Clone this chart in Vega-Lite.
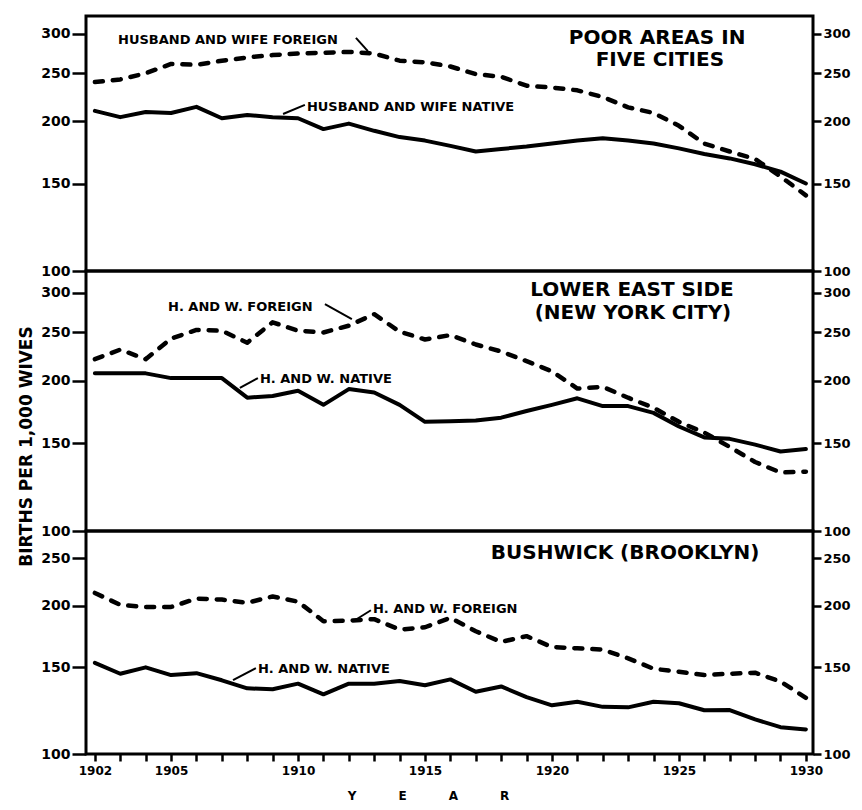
{
  "$schema": "https://vega.github.io/schema/vega-lite/v6.json",
  "background": "white",
  "padding": {"left": 15, "top": 14, "right": 6, "bottom": 6},
  "spacing": 0,
  "bounds": "flush",
  "config": {
    "view": {"stroke": "black", "strokeWidth": 3},
    "axis": {"labelFont": "DejaVu Sans", "labelFontWeight": "bold", "labelColor": "black", "tickColor": "black", "tickWidth": 2.5, "domain": false, "grid": false, "labelOverlap": false, "labelFlush": false, "titleFont": "DejaVu Sans", "titleFontWeight": "bold", "titleColor": "black"}
  },
  "datasets": {
    "series": [
      {"panel":"five","type":"native","year":1902,"value":210},{"panel":"five","type":"native","year":1903,"value":204},{"panel":"five","type":"native","year":1904,"value":209},{"panel":"five","type":"native","year":1905,"value":208},{"panel":"five","type":"native","year":1906,"value":214},{"panel":"five","type":"native","year":1907,"value":203},{"panel":"five","type":"native","year":1908,"value":206},{"panel":"five","type":"native","year":1909,"value":204},{"panel":"five","type":"native","year":1910,"value":203},{"panel":"five","type":"native","year":1911,"value":193},{"panel":"five","type":"native","year":1912,"value":198},{"panel":"five","type":"native","year":1913,"value":191.5},{"panel":"five","type":"native","year":1914,"value":186},{"panel":"five","type":"native","year":1915,"value":183},{"panel":"five","type":"native","year":1916,"value":178.6},{"panel":"five","type":"native","year":1917,"value":174},{"panel":"five","type":"native","year":1918,"value":176},{"panel":"five","type":"native","year":1919,"value":178},{"panel":"five","type":"native","year":1920,"value":180.5},{"panel":"five","type":"native","year":1921,"value":183},{"panel":"five","type":"native","year":1922,"value":185},{"panel":"five","type":"native","year":1923,"value":183},{"panel":"five","type":"native","year":1924,"value":180.5},{"panel":"five","type":"native","year":1925,"value":176.5},{"panel":"five","type":"native","year":1926,"value":172},{"panel":"five","type":"native","year":1927,"value":168.5},{"panel":"five","type":"native","year":1928,"value":164},{"panel":"five","type":"native","year":1929,"value":158.5},{"panel":"five","type":"native","year":1930,"value":150},
      {"panel":"five","type":"foreign","year":1902,"value":240},{"panel":"five","type":"foreign","year":1903,"value":243},{"panel":"five","type":"foreign","year":1904,"value":250},{"panel":"five","type":"foreign","year":1905,"value":261},{"panel":"five","type":"foreign","year":1906,"value":260},{"panel":"five","type":"foreign","year":1907,"value":265},{"panel":"five","type":"foreign","year":1908,"value":269},{"panel":"five","type":"foreign","year":1909,"value":272},{"panel":"five","type":"foreign","year":1910,"value":274},{"panel":"five","type":"foreign","year":1911,"value":275},{"panel":"five","type":"foreign","year":1912,"value":276},{"panel":"five","type":"foreign","year":1913,"value":274},{"panel":"five","type":"foreign","year":1914,"value":265},{"panel":"five","type":"foreign","year":1915,"value":263},{"panel":"five","type":"foreign","year":1916,"value":258},{"panel":"five","type":"foreign","year":1917,"value":249},{"panel":"five","type":"foreign","year":1918,"value":246},{"panel":"five","type":"foreign","year":1919,"value":236},{"panel":"five","type":"foreign","year":1920,"value":234},{"panel":"five","type":"foreign","year":1921,"value":231},{"panel":"five","type":"foreign","year":1922,"value":224},{"panel":"five","type":"foreign","year":1923,"value":213.5},{"panel":"five","type":"foreign","year":1924,"value":208},{"panel":"five","type":"foreign","year":1925,"value":196},{"panel":"five","type":"foreign","year":1926,"value":180.5},{"panel":"five","type":"foreign","year":1927,"value":174},{"panel":"five","type":"foreign","year":1928,"value":168},{"panel":"five","type":"foreign","year":1929,"value":155},{"panel":"five","type":"foreign","year":1930,"value":142},
      {"panel":"les","type":"native","year":1902,"value":207},{"panel":"les","type":"native","year":1903,"value":207},{"panel":"les","type":"native","year":1904,"value":207},{"panel":"les","type":"native","year":1905,"value":202.5},{"panel":"les","type":"native","year":1906,"value":202.5},{"panel":"les","type":"native","year":1907,"value":202.5},{"panel":"les","type":"native","year":1908,"value":185},{"panel":"les","type":"native","year":1909,"value":186.5},{"panel":"les","type":"native","year":1910,"value":191},{"panel":"les","type":"native","year":1911,"value":179},{"panel":"les","type":"native","year":1912,"value":192.5},{"panel":"les","type":"native","year":1913,"value":189.5},{"panel":"les","type":"native","year":1914,"value":179},{"panel":"les","type":"native","year":1915,"value":165.5},{"panel":"les","type":"native","year":1916,"value":166},{"panel":"les","type":"native","year":1917,"value":166.5},{"panel":"les","type":"native","year":1918,"value":168.7},{"panel":"les","type":"native","year":1919,"value":174},{"panel":"les","type":"native","year":1920,"value":179},{"panel":"les","type":"native","year":1921,"value":184.5},{"panel":"les","type":"native","year":1922,"value":178},{"panel":"les","type":"native","year":1923,"value":178},{"panel":"les","type":"native","year":1924,"value":172.5},{"panel":"les","type":"native","year":1925,"value":162},{"panel":"les","type":"native","year":1926,"value":154},{"panel":"les","type":"native","year":1927,"value":153},{"panel":"les","type":"native","year":1928,"value":149},{"panel":"les","type":"native","year":1929,"value":144.3},{"panel":"les","type":"native","year":1930,"value":146},
      {"panel":"les","type":"foreign","year":1902,"value":221},{"panel":"les","type":"foreign","year":1903,"value":231},{"panel":"les","type":"foreign","year":1904,"value":221},{"panel":"les","type":"foreign","year":1905,"value":243},{"panel":"les","type":"foreign","year":1906,"value":253},{"panel":"les","type":"foreign","year":1907,"value":252},{"panel":"les","type":"foreign","year":1908,"value":238.5},{"panel":"les","type":"foreign","year":1909,"value":262},{"panel":"les","type":"foreign","year":1910,"value":252},{"panel":"les","type":"foreign","year":1911,"value":250},{"panel":"les","type":"foreign","year":1912,"value":258},{"panel":"les","type":"foreign","year":1913,"value":272},{"panel":"les","type":"foreign","year":1914,"value":251},{"panel":"les","type":"foreign","year":1915,"value":242},{"panel":"les","type":"foreign","year":1916,"value":247},{"panel":"les","type":"foreign","year":1917,"value":236.5},{"panel":"les","type":"foreign","year":1918,"value":229},{"panel":"les","type":"foreign","year":1919,"value":219},{"panel":"les","type":"foreign","year":1920,"value":209},{"panel":"les","type":"foreign","year":1921,"value":193},{"panel":"les","type":"foreign","year":1922,"value":194.5},{"panel":"les","type":"foreign","year":1923,"value":185},{"panel":"les","type":"foreign","year":1924,"value":176.6},{"panel":"les","type":"foreign","year":1925,"value":165.5},{"panel":"les","type":"foreign","year":1926,"value":157.5},{"panel":"les","type":"foreign","year":1927,"value":147.4},{"panel":"les","type":"foreign","year":1928,"value":137.5},{"panel":"les","type":"foreign","year":1929,"value":131},{"panel":"les","type":"foreign","year":1930,"value":131.5},
      {"panel":"bush","type":"native","year":1902,"value":153.2},{"panel":"bush","type":"native","year":1903,"value":145.6},{"panel":"bush","type":"native","year":1904,"value":150},{"panel":"bush","type":"native","year":1905,"value":144.7},{"panel":"bush","type":"native","year":1906,"value":146},{"panel":"bush","type":"native","year":1907,"value":141.2},{"panel":"bush","type":"native","year":1908,"value":136},{"panel":"bush","type":"native","year":1909,"value":135.4},{"panel":"bush","type":"native","year":1910,"value":139},{"panel":"bush","type":"native","year":1911,"value":132.2},{"panel":"bush","type":"native","year":1912,"value":139},{"panel":"bush","type":"native","year":1913,"value":139},{"panel":"bush","type":"native","year":1914,"value":140.7},{"panel":"bush","type":"native","year":1915,"value":138},{"panel":"bush","type":"native","year":1916,"value":141.8},{"panel":"bush","type":"native","year":1917,"value":133.8},{"panel":"bush","type":"native","year":1918,"value":137.2},{"panel":"bush","type":"native","year":1919,"value":130.5},{"panel":"bush","type":"native","year":1920,"value":125.6},{"panel":"bush","type":"native","year":1921,"value":127.7},{"panel":"bush","type":"native","year":1922,"value":124.7},{"panel":"bush","type":"native","year":1923,"value":124.4},{"panel":"bush","type":"native","year":1924,"value":127.7},{"panel":"bush","type":"native","year":1925,"value":126.8},{"panel":"bush","type":"native","year":1926,"value":122.7},{"panel":"bush","type":"native","year":1927,"value":122.8},{"panel":"bush","type":"native","year":1928,"value":117.6},{"panel":"bush","type":"native","year":1929,"value":113.4},{"panel":"bush","type":"native","year":1930,"value":112.2},
      {"panel":"bush","type":"foreign","year":1902,"value":212.5},{"panel":"bush","type":"foreign","year":1903,"value":201},{"panel":"bush","type":"foreign","year":1904,"value":199},{"panel":"bush","type":"foreign","year":1905,"value":199},{"panel":"bush","type":"foreign","year":1906,"value":207},{"panel":"bush","type":"foreign","year":1907,"value":206},{"panel":"bush","type":"foreign","year":1908,"value":203},{"panel":"bush","type":"foreign","year":1909,"value":209},{"panel":"bush","type":"foreign","year":1910,"value":204},{"panel":"bush","type":"foreign","year":1911,"value":186.2},{"panel":"bush","type":"foreign","year":1912,"value":186.7},{"panel":"bush","type":"foreign","year":1913,"value":188},{"panel":"bush","type":"foreign","year":1914,"value":179},{"panel":"bush","type":"foreign","year":1915,"value":181},{"panel":"bush","type":"foreign","year":1916,"value":189.2},{"panel":"bush","type":"foreign","year":1917,"value":177.6},{"panel":"bush","type":"foreign","year":1918,"value":169},{"panel":"bush","type":"foreign","year":1919,"value":173.6},{"panel":"bush","type":"foreign","year":1920,"value":165},{"panel":"bush","type":"foreign","year":1921,"value":164},{"panel":"bush","type":"foreign","year":1922,"value":163},{"panel":"bush","type":"foreign","year":1923,"value":156.5},{"panel":"bush","type":"foreign","year":1924,"value":149},{"panel":"bush","type":"foreign","year":1925,"value":147},{"panel":"bush","type":"foreign","year":1926,"value":144.7},{"panel":"bush","type":"foreign","year":1927,"value":145.6},{"panel":"bush","type":"foreign","year":1928,"value":146.3},{"panel":"bush","type":"foreign","year":1929,"value":140.4},{"panel":"bush","type":"foreign","year":1930,"value":130.1}
    ],
    "notes": [
      {"panel":"five","kind":"title","year":1924.14,"value":286.4,"text":"POOR AREAS IN"},
      {"panel":"five","kind":"title","year":1924.25,"value":258.7,"text":"FIVE CITIES"},
      {"panel":"five","kind":"label","year":1902.91,"value":286.4,"text":"HUSBAND AND WIFE FOREIGN"},
      {"panel":"five","kind":"label","year":1910.35,"value":209.9,"text":"HUSBAND AND WIFE NATIVE"},
      {"panel":"les","kind":"title","year":1923.15,"value":296,"text":"LOWER EAST SIDE"},
      {"panel":"les","kind":"title","year":1923.19,"value":266,"text":"(NEW YORK CITY)"},
      {"panel":"les","kind":"label","year":1904.88,"value":276,"text":"H. AND W. FOREIGN"},
      {"panel":"les","kind":"label","year":1908.5,"value":198,"text":"H. AND W. NATIVE"},
      {"panel":"bush","kind":"title","year":1922.88,"value":249,"text":"BUSHWICK (BROOKLYN)"},
      {"panel":"bush","kind":"label","year":1912.95,"value":193.3,"text":"H. AND W. FOREIGN"},
      {"panel":"bush","kind":"label","year":1908.42,"value":146,"text":"H. AND W. NATIVE"}
    ],
    "arrows": [
      {"panel":"five","year":1912.28,"value":294.5,"year2":1912.75,"value2":277},
      {"panel":"five","year":1910.27,"value":216,"year2":1909.41,"value2":207},
      {"panel":"les","year":1911.06,"value":285,"year2":1912.12,"value2":266},
      {"panel":"les","year":1908.42,"value":202.6,"year2":1907.71,"value2":193.5},
      {"panel":"bush","year":1912.87,"value":196,"year2":1912.24,"value2":187},
      {"panel":"bush","year":1908.34,"value":149.5,"year2":1907.44,"value2":141.3}
    ]
  },
  "vconcat": [
    {
      "width": 727, "height": 255,
      "layer": [
        {"data": {"name": "series"}, "transform": [{"filter": "datum.panel == 'five' && datum.type == 'native'"}],
         "mark": {"type": "line", "color": "black", "strokeWidth": 4, "strokeJoin": "round", "strokeCap": "round"},
         "encoding": {
           "x": {"field": "year", "type": "quantitative", "scale": {"domain": [1901.65, 1930.28], "nice": false, "zero": false}, "axis": null},
           "y": {"field": "value", "type": "quantitative", "scale": {"type": "log", "domain": [100, 326], "nice": false}, "axis": {"orient": "left", "values": [100, 150, 200, 250, 300], "format": "d", "title": null, "tickSize": 14, "labelPadding": 2, "labelFontSize": 14}}
         }},
        {"data": {"name": "series"}, "transform": [{"filter": "datum.panel == 'five' && datum.type == 'foreign'"}],
         "mark": {"type": "line", "color": "black", "strokeWidth": 4.5, "strokeDash": [8, 10], "strokeJoin": "round", "strokeCap": "round"},
         "encoding": {
           "x": {"field": "year", "type": "quantitative", "scale": {"domain": [1901.65, 1930.28], "nice": false, "zero": false}, "axis": null},
           "y": {"field": "value", "type": "quantitative", "scale": {"type": "log", "domain": [100, 326], "nice": false}, "axis": {"orient": "right", "values": [100, 150, 200, 250, 300], "format": "d", "title": null, "tickSize": 8, "labelPadding": 2, "labelFontSize": 13}}
         }},
        {"data": {"name": "notes"}, "transform": [{"filter": "datum.panel == 'five' && datum.kind == 'title'"}],
         "mark": {"type": "text", "font": "DejaVu Sans", "fontWeight": "bold", "fontSize": 20, "align": "center", "baseline": "alphabetic", "color": "black"},
         "encoding": {
           "x": {"field": "year", "type": "quantitative", "scale": {"domain": [1901.65, 1930.28], "nice": false, "zero": false}, "axis": null},
           "y": {"field": "value", "type": "quantitative", "scale": {"type": "log", "domain": [100, 326], "nice": false}, "axis": null},
           "text": {"field": "text"}
         }},
        {"data": {"name": "notes"}, "transform": [{"filter": "datum.panel == 'five' && datum.kind == 'label'"}],
         "mark": {"type": "text", "font": "DejaVu Sans", "fontWeight": "bold", "fontSize": 13, "align": "left", "baseline": "alphabetic", "color": "black"},
         "encoding": {
           "x": {"field": "year", "type": "quantitative", "scale": {"domain": [1901.65, 1930.28], "nice": false, "zero": false}, "axis": null},
           "y": {"field": "value", "type": "quantitative", "scale": {"type": "log", "domain": [100, 326], "nice": false}, "axis": null},
           "text": {"field": "text"}
         }},
        {"data": {"name": "arrows"}, "transform": [{"filter": "datum.panel == 'five'"}],
         "mark": {"type": "rule", "color": "black", "strokeWidth": 2},
         "encoding": {
           "x": {"field": "year", "type": "quantitative", "scale": {"domain": [1901.65, 1930.28], "nice": false, "zero": false}, "axis": null},
           "x2": {"field": "year2"},
           "y": {"field": "value", "type": "quantitative", "scale": {"type": "log", "domain": [100, 326], "nice": false}, "axis": null},
           "y2": {"field": "value2"}
         }}
      ],
      "resolve": {"axis": {"y": "independent"}}
    },
    {
      "width": 727, "height": 260,
      "layer": [
        {"data": {"name": "series"}, "transform": [{"filter": "datum.panel == 'les' && datum.type == 'native'"}],
         "mark": {"type": "line", "color": "black", "strokeWidth": 4, "strokeJoin": "round", "strokeCap": "round"},
         "encoding": {
           "x": {"field": "year", "type": "quantitative", "scale": {"domain": [1901.65, 1930.28], "nice": false, "zero": false}, "axis": null},
           "y": {"field": "value", "type": "quantitative", "scale": {"type": "log", "domain": [100, 332], "nice": false}, "axis": {"orient": "left", "values": [100, 150, 200, 250, 300], "format": "d", "title": "BIRTHS PER 1,000 WIVES", "titleFontSize": 17, "titleX": -60, "titleY": 175, "titleAngle": -90, "titleAlign": "center", "titleBaseline": "middle", "tickSize": 14, "labelPadding": 2, "labelFontSize": 14}}
         }},
        {"data": {"name": "series"}, "transform": [{"filter": "datum.panel == 'les' && datum.type == 'foreign'"}],
         "mark": {"type": "line", "color": "black", "strokeWidth": 4.5, "strokeDash": [8, 10], "strokeJoin": "round", "strokeCap": "round"},
         "encoding": {
           "x": {"field": "year", "type": "quantitative", "scale": {"domain": [1901.65, 1930.28], "nice": false, "zero": false}, "axis": null},
           "y": {"field": "value", "type": "quantitative", "scale": {"type": "log", "domain": [100, 332], "nice": false}, "axis": {"orient": "right", "values": [100, 150, 200, 250, 300], "format": "d", "title": null, "tickSize": 8, "labelPadding": 2, "labelFontSize": 13}}
         }},
        {"data": {"name": "notes"}, "transform": [{"filter": "datum.panel == 'les' && datum.kind == 'title'"}],
         "mark": {"type": "text", "font": "DejaVu Sans", "fontWeight": "bold", "fontSize": 20, "align": "center", "baseline": "alphabetic", "color": "black"},
         "encoding": {
           "x": {"field": "year", "type": "quantitative", "scale": {"domain": [1901.65, 1930.28], "nice": false, "zero": false}, "axis": null},
           "y": {"field": "value", "type": "quantitative", "scale": {"type": "log", "domain": [100, 332], "nice": false}, "axis": null},
           "text": {"field": "text"}
         }},
        {"data": {"name": "notes"}, "transform": [{"filter": "datum.panel == 'les' && datum.kind == 'label'"}],
         "mark": {"type": "text", "font": "DejaVu Sans", "fontWeight": "bold", "fontSize": 13, "align": "left", "baseline": "alphabetic", "color": "black"},
         "encoding": {
           "x": {"field": "year", "type": "quantitative", "scale": {"domain": [1901.65, 1930.28], "nice": false, "zero": false}, "axis": null},
           "y": {"field": "value", "type": "quantitative", "scale": {"type": "log", "domain": [100, 332], "nice": false}, "axis": null},
           "text": {"field": "text"}
         }},
        {"data": {"name": "arrows"}, "transform": [{"filter": "datum.panel == 'les'"}],
         "mark": {"type": "rule", "color": "black", "strokeWidth": 2},
         "encoding": {
           "x": {"field": "year", "type": "quantitative", "scale": {"domain": [1901.65, 1930.28], "nice": false, "zero": false}, "axis": null},
           "x2": {"field": "year2"},
           "y": {"field": "value", "type": "quantitative", "scale": {"type": "log", "domain": [100, 332], "nice": false}, "axis": null},
           "y2": {"field": "value2"}
         }}
      ],
      "resolve": {"axis": {"y": "independent"}}
    },
    {
      "width": 727, "height": 223,
      "layer": [
        {"data": {"name": "series"}, "transform": [{"filter": "datum.panel == 'bush' && datum.type == 'native'"}],
         "mark": {"type": "line", "color": "black", "strokeWidth": 4, "strokeJoin": "round", "strokeCap": "round"},
         "encoding": {
           "x": {"field": "year", "type": "quantitative", "scale": {"domain": [1901.65, 1930.28], "nice": false, "zero": false}, "axis": {"orient": "bottom", "values": [1902,1903,1904,1905,1906,1907,1908,1909,1910,1911,1912,1913,1914,1915,1916,1917,1918,1919,1920,1921,1922,1923,1924,1925,1926,1927,1928,1929,1930], "format": "d", "labelExpr": "(datum.value == 1902 || datum.value % 5 == 0) ? datum.label : ''", "tickSize": 7, "labelPadding": 4, "labelFontSize": 12, "title": "Y\u2003\u2003\u2003\u2002E\u2003\u2003\u2003\u2002A\u2003\u2003\u2003\u2002R", "titleFontSize": 12, "titleX": 342, "titleY": 45, "titleAlign": "center", "titleBaseline": "alphabetic"}},
           "y": {"field": "value", "type": "quantitative", "scale": {"type": "log", "domain": [100, 284], "nice": false}, "axis": {"orient": "left", "values": [100, 150, 200, 250], "format": "d", "title": null, "tickSize": 14, "labelPadding": 2, "labelFontSize": 14}}
         }},
        {"data": {"name": "series"}, "transform": [{"filter": "datum.panel == 'bush' && datum.type == 'foreign'"}],
         "mark": {"type": "line", "color": "black", "strokeWidth": 4.5, "strokeDash": [8, 10], "strokeJoin": "round", "strokeCap": "round"},
         "encoding": {
           "x": {"field": "year", "type": "quantitative", "scale": {"domain": [1901.65, 1930.28], "nice": false, "zero": false}, "axis": null},
           "y": {"field": "value", "type": "quantitative", "scale": {"type": "log", "domain": [100, 284], "nice": false}, "axis": {"orient": "right", "values": [100, 150, 200, 250], "format": "d", "title": null, "tickSize": 8, "labelPadding": 2, "labelFontSize": 13}}
         }},
        {"data": {"name": "notes"}, "transform": [{"filter": "datum.panel == 'bush' && datum.kind == 'title'"}],
         "mark": {"type": "text", "font": "DejaVu Sans", "fontWeight": "bold", "fontSize": 20, "align": "center", "baseline": "alphabetic", "color": "black"},
         "encoding": {
           "x": {"field": "year", "type": "quantitative", "scale": {"domain": [1901.65, 1930.28], "nice": false, "zero": false}, "axis": null},
           "y": {"field": "value", "type": "quantitative", "scale": {"type": "log", "domain": [100, 284], "nice": false}, "axis": null},
           "text": {"field": "text"}
         }},
        {"data": {"name": "notes"}, "transform": [{"filter": "datum.panel == 'bush' && datum.kind == 'label'"}],
         "mark": {"type": "text", "font": "DejaVu Sans", "fontWeight": "bold", "fontSize": 13, "align": "left", "baseline": "alphabetic", "color": "black"},
         "encoding": {
           "x": {"field": "year", "type": "quantitative", "scale": {"domain": [1901.65, 1930.28], "nice": false, "zero": false}, "axis": null},
           "y": {"field": "value", "type": "quantitative", "scale": {"type": "log", "domain": [100, 284], "nice": false}, "axis": null},
           "text": {"field": "text"}
         }},
        {"data": {"name": "arrows"}, "transform": [{"filter": "datum.panel == 'bush'"}],
         "mark": {"type": "rule", "color": "black", "strokeWidth": 2},
         "encoding": {
           "x": {"field": "year", "type": "quantitative", "scale": {"domain": [1901.65, 1930.28], "nice": false, "zero": false}, "axis": null},
           "x2": {"field": "year2"},
           "y": {"field": "value", "type": "quantitative", "scale": {"type": "log", "domain": [100, 284], "nice": false}, "axis": null},
           "y2": {"field": "value2"}
         }}
      ],
      "resolve": {"axis": {"y": "independent", "x": "independent"}}
    }
  ]
}
